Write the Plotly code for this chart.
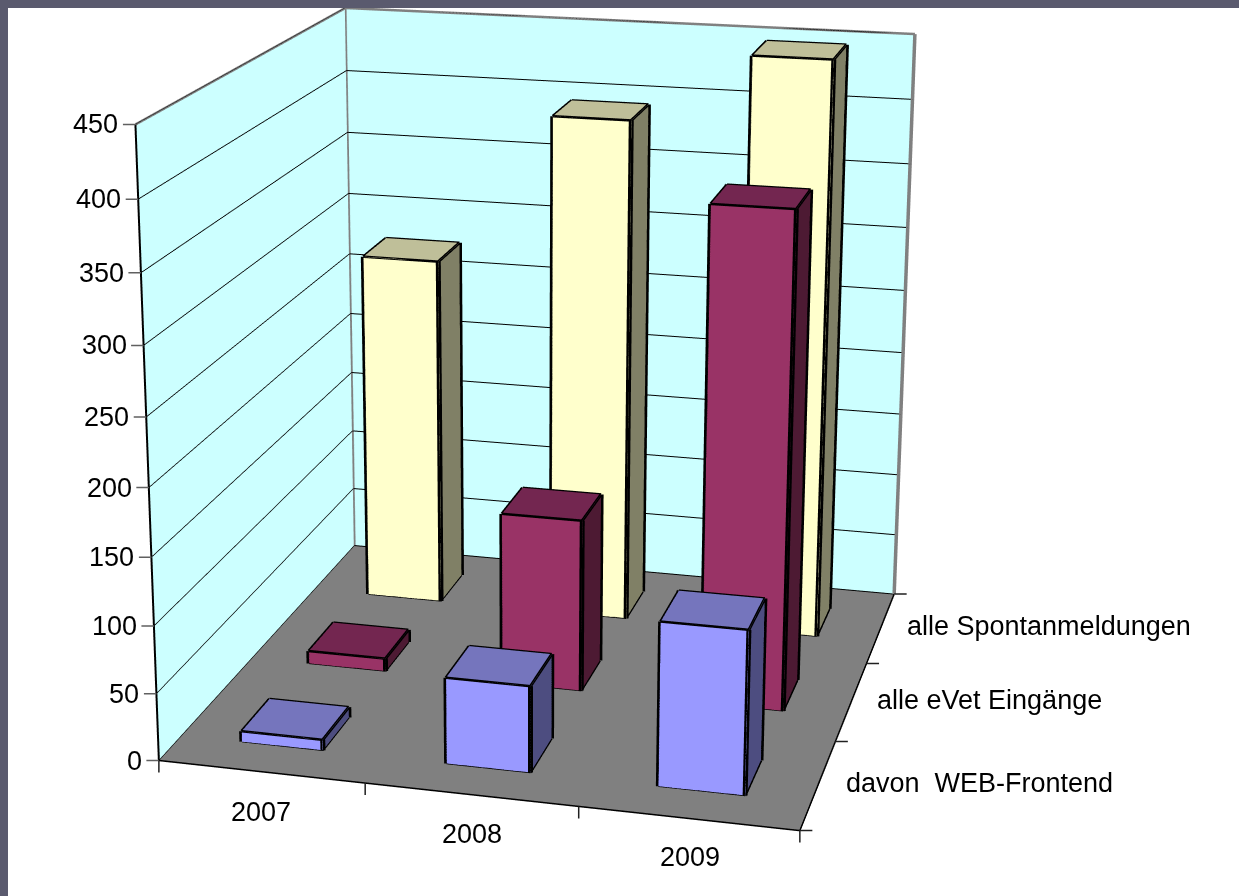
import numpy as np
import plotly.graph_objects as go

WIN_W, WIN_H = 1239, 896
years = ["2007", "2008", "2009"]
series = ["davon  WEB-Frontend", "alle eVet Eingänge", "alle Spontanmeldungen"]
web = [8, 64, 120]
evet = [10, 132, 372]
spontan = [277, 395, 448]
values = [web, evet, spontan]
z_ticks = [0, 50, 100, 150, 200, 250, 300, 350, 400, 450]
colors = [("#9999FF", "#7575BD", "#4D4D80"), ("#993366", "#732650", "#4D1A33"), ("#FFFFCC", "#BFBF99", "#808066")]

# camera solved from the reference's box corners
EYE = (1.1341, -4.5699, 1.4354)
CENTER = (-0.0393, -0.0393, 0.0386)
UP = (0.0021, -0.001, 1.0)
ASPECT = (0.9984, 0.9992, 1.0)
FOCAL, PX, PY = 3061.94, 522.51, 364.4
X_MAX, Y_MAX, Z_MAX = 3, 3, 450

FIG_H = int(round(2 * FOCAL * np.tan(np.pi / 8)))
FIG_W = int(round(2 * max(PX, WIN_W - PX)))
LEFT = PX - FIG_W / 2
TOP = PY - FIG_H / 2

# Line widths per direction: the renderer thins lines unevenly on a tall canvas.
W_X, W_Y, W_Z = 5, 6, 10


def to_px(x, y, z):
    """Pixel position of a data point in the window, used to place labels beside it."""
    eye, cen, up = np.array(EYE), np.array(CENTER), np.array(UP)
    fw = cen - eye
    fw = fw / np.linalg.norm(fw)
    s = np.cross(fw, up)
    s = s / np.linalg.norm(s)
    u = np.cross(s, fw)
    w = np.array([(x / X_MAX - .5) * ASPECT[0], (y / Y_MAX - .5) * ASPECT[1], (z / Z_MAX - .5) * ASPECT[2]]) - eye
    return PX + FOCAL * (w @ s) / (w @ fw), PY - FOCAL * (w @ u) / (w @ fw)


def segments(pairs, color, width):
    ex, ey, ez = [], [], []
    for p, q in pairs:
        ex += [p[0], q[0], None]
        ey += [p[1], q[1], None]
        ez += [p[2], q[2], None]
    return go.Scatter3d(x=ex, y=ey, z=ez, mode="lines", line=dict(color=color, width=width),
                        hoverinfo="skip", showlegend=False)


HX, HY = 0.2, 0.2
fig = go.Figure()
for j, (vals, col) in enumerate(zip(values, colors)):
    for i, v in enumerate(vals):
        cx, cy = i + .5, j + .5
        X = [cx - HX, cx + HX, cx + HX, cx - HX] * 2
        Y = [cy - HY, cy - HY, cy + HY, cy + HY] * 2
        Z = [0] * 4 + [v] * 4
        I = [0, 0, 1, 1, 4, 4, 2, 2, 3, 3, 0, 0]
        J = [5, 4, 6, 5, 6, 7, 7, 6, 4, 7, 3, 2]
        K = [1, 5, 2, 6, 5, 6, 3, 7, 0, 4, 2, 3]
        fc = [col[0]] * 2 + [col[2]] * 2 + [col[1]] * 2 + [col[2]] * 6
        fig.add_trace(go.Mesh3d(x=X, y=Y, z=Z, i=I, j=J, k=K, facecolor=fc, flatshading=True,
                                lighting=dict(ambient=1, diffuse=0, specular=0, roughness=1, fresnel=0),
                                hoverinfo="skip", showscale=False, name=series[j]))
        P = list(zip(X, Y, Z))
        fig.add_trace(segments([(P[a], P[b]) for a, b in [(0, 1), (2, 3), (4, 5), (6, 7)]], "black", W_X))
        fig.add_trace(segments([(P[a], P[b]) for a, b in [(1, 2), (3, 0), (5, 6), (7, 4)]], "black", W_Y))
        fig.add_trace(segments([(P[a], P[b]) for a, b in [(0, 4), (1, 5), (2, 6), (3, 7)]], "black", W_Z))

# grey frame of the two walls
GREY = "#808080"
fig.add_trace(segments([((0, Y_MAX, Z_MAX), (X_MAX, Y_MAX, Z_MAX))], GREY, 5))
fig.add_trace(segments([((0, 0, Z_MAX), (0, Y_MAX, Z_MAX))], GREY, 5))
fig.add_trace(segments([((0, Y_MAX, 0), (0, Y_MAX, Z_MAX)), ((X_MAX, Y_MAX, 0), (X_MAX, Y_MAX, Z_MAX))], GREY, 7))
# black axis lines
fig.add_trace(segments([((0, 0, 0), (X_MAX, 0, 0))], "black", 3))
fig.add_trace(segments([((X_MAX, 0, 0), (X_MAX, Y_MAX, 0))], "black", 3))
fig.add_trace(segments([((0, 0, 0), (0, 0, Z_MAX))], "black", 4))

FONT = dict(family="Liberation Sans, Arial, sans-serif", size=27, color="black")
TICK_FONT = dict(size=1, color="black")
anns = []
YEAR_POS = [(262, 812), (473, 834), (691, 857)]
SERIES_POS = [(845, 782), (876, 699), (905, 625)]
for i, label in enumerate(years):
    p0 = to_px(i + .5, 0, 0)
    anns.append(dict(x=i + .5, y=0, z=0, text=label, showarrow=False, font=FONT, xanchor="center", yanchor="middle",
                     xshift=float(YEAR_POS[i][0] - p0[0]), yshift=float(p0[1] - YEAR_POS[i][1])))
for j, label in enumerate(series):
    p0 = to_px(X_MAX, j + .5, 0)
    anns.append(dict(x=X_MAX, y=j + .5, z=0, text=label.replace("  ", "&nbsp; "), showarrow=False, font=FONT,
                     xanchor="left", yanchor="middle",
                     xshift=float(SERIES_POS[j][0] - p0[0]), yshift=float(p0[1] - SERIES_POS[j][1])))
for tick in z_ticks:
    anns.append(dict(x=0, y=0, z=tick, text=str(tick), showarrow=False, font=FONT, xanchor="right", yanchor="middle", xshift=-15))
    anns.append(dict(x=0, y=0, z=tick, text=" ", font=TICK_FONT, borderpad=0, showarrow=True, arrowhead=0, arrowwidth=1.5,
                     arrowcolor="#606060", standoff=0, ax=-13, ay=0))
for k in range(X_MAX + 1):
    anns.append(dict(x=k, y=0, z=0, text=" ", font=TICK_FONT, borderpad=0, showarrow=True, arrowhead=0, arrowwidth=1.5,
                     arrowcolor="#202020", standoff=0, ax=0.01, ay=13))
for k in range(Y_MAX + 1):
    anns.append(dict(x=X_MAX, y=k, z=0, text=" ", font=TICK_FONT, borderpad=0, showarrow=True, arrowhead=0, arrowwidth=1.5,
                     arrowcolor="#202020", standoff=0, ax=13, ay=0))

plain = dict(title=dict(text=""), showspikes=False, zeroline=False, showgrid=False, showticklabels=False,
             ticks="", showline=False, showbackground=True, backgroundcolor="#CCFFFF")
STRIP = "#5A5A6E"
fig.update_layout(
    width=FIG_W, height=FIG_H, margin=dict(l=0, r=0, t=0, b=0), autosize=False, showlegend=False,
    paper_bgcolor="white", font=FONT,
    shapes=[
        dict(type="rect", xref="paper", yref="paper", x0=(0 - LEFT) / FIG_W, x1=(8 - LEFT) / FIG_W, y0=0, y1=1,
             fillcolor=STRIP, line=dict(width=0)),
        dict(type="rect", xref="paper", yref="paper", x0=0, x1=1, y0=1 - (0 - TOP) / FIG_H, y1=1 - (8 - TOP) / FIG_H,
             fillcolor=STRIP, line=dict(width=0)),
    ],
    scene=dict(
        aspectmode="manual", aspectratio=dict(x=ASPECT[0], y=ASPECT[1], z=ASPECT[2]),
        domain=dict(x=[0, 1], y=[0, 1]),
        camera=dict(eye=dict(x=EYE[0], y=EYE[1], z=EYE[2]), center=dict(x=CENTER[0], y=CENTER[1], z=CENTER[2]),
                    up=dict(x=UP[0], y=UP[1], z=UP[2]), projection=dict(type="perspective")),
        xaxis=dict(range=[0, X_MAX], tickvals=list(range(X_MAX + 1)), **plain),
        yaxis=dict(range=[0, Y_MAX], tickvals=list(range(Y_MAX + 1)), **plain),
        zaxis=dict(range=[0, Z_MAX], tickvals=z_ticks, title=dict(text=""), showticklabels=False, ticks="",
                   showline=False, showspikes=False, zeroline=False, showgrid=True, gridcolor="black", gridwidth=2,
                   showbackground=True, backgroundcolor="#808080"),
        annotations=anns,
    ),
)
post = ("var gd=document.getElementById('{plot_id}');gd.style.position='fixed';gd.style.left='%.1fpx';gd.style.top='%.1fpx';"
        "document.body.style.margin='0';document.body.style.overflow='hidden';") % (LEFT, TOP)
fig.write_html("out.html", post_script=post)
